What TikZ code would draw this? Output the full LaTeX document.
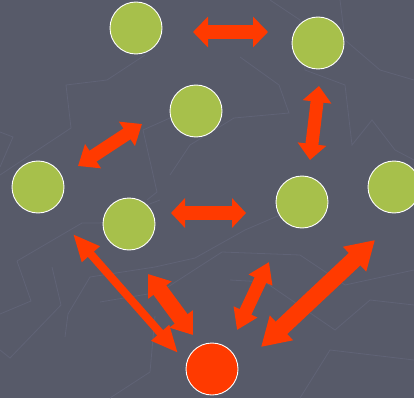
\documentclass[tikz,border=0pt]{standalone}
\usepackage{xcolor}
\definecolor{slate}{HTML}{575A69}
\definecolor{crack}{HTML}{606376}
\definecolor{lime}{HTML}{A7C04B}
\definecolor{blaze}{HTML}{FF3A00}
\usetikzlibrary{arrows.meta,calc}
\tikzset{
    x=1pt,y=-1pt,
    ball/.style ={circle, draw=white, line width=0.9pt, fill=lime, minimum size=52pt, inner sep=0pt},
    hot/.style ={ball, fill=blaze},
    link/.style n args={3}{blaze, line width=#1, {Triangle[width=#2,length=#3]}-{Triangle[width=#2,length=#3]}},
    crackle/.style ={crack, line width=0.8pt}
}
\begin{document}
\begin{tikzpicture}
      \fill[slate] (0,0) rectangle (414,398);
      \useasboundingbox (0,0) rectangle (414,398);
      % faint background lines
      \draw[crackle] (145,55) -- (107,80) -- (66,85) -- (71,128) -- (0,175);
      \draw[crackle] (0,132) -- (13,137) -- (0,167);
      \draw[crackle] (170,118) -- (143,130) -- (157,192) -- (147,200);
      \draw[crackle] (240,57) -- (279,85) -- (289,113) -- (234,118) -- (190,145) -- (170,175);
      \draw[crackle] (270,0) -- (300,20) -- (305,70) -- (345,85) -- (352,145) -- (372,120) -- (395,150) -- (414,160);
      \draw[crackle] (340,0) -- (345,40) -- (380,70) -- (414,80);
      \draw[crackle] (17,261) -- (82,223) -- (100,223) -- (160,200);
      \draw[crackle] (17,261) -- (31,301) -- (0,314);
      \draw[crackle] (52,267) -- (61,305) -- (10,358) -- (0,350);
      \draw[crackle] (65,337) -- (68,314) -- (90,277) -- (155,267) -- (195,258) -- (245,230) -- (280,215);
      \draw[crackle] (100,302) -- (160,292) -- (222,252) -- (300,255) -- (345,285) -- (414,270);
      \draw[crackle] (155,316) -- (150,372) -- (110,398);
      \draw[crackle] (230,280) -- (265,282) -- (335,330) -- (370,300) -- (414,305);
      \draw[crackle] (300,398) -- (330,350) -- (414,360);

      \node[ball] (tl) at (136,28) {};
      \node[ball] (tr) at (318,43) {};
      \node[ball] (mid) at (196,111) {};
      \node[ball] (lft) at (38,187) {};
      \node[ball] (cl) at (129,224) {};
      \node[ball] (cr) at (302,202) {};
      \node[ball] (rgt) at (394,187) {};
      \node[hot] (root) at (212,369) {};

      % arrow ends
      \coordinate (a1) at (193,32);   \coordinate (b1) at (268,32);
      \coordinate (a2) at (319,86);   \coordinate (b2) at (310,160);
      \coordinate (a3) at (142,124);  \coordinate (b3) at (78,166);
      \coordinate (a4) at (171,213);  \coordinate (b4) at (246,213);
      \coordinate (a5) at (73,234);   \coordinate (b5) at (178,353);
      \coordinate (a6) at (148,274);  \coordinate (b6) at (193,335);
      \coordinate (a7) at (269,262);  \coordinate (b7) at (237,330);
      \coordinate (a8) at (375,240);  \coordinate (b8) at (261,347);

      \draw[link={14pt}{30pt}{15pt}] (a1) -- (b1);
      \draw[link={13pt}{28pt}{16pt}] (a2) -- (b2);
      \draw[link={13pt}{28pt}{18pt}] (a3) -- (b3);
      \draw[link={14pt}{29pt}{14pt}] (a4) -- (b4);
      \draw[link={8pt}{22pt}{27pt}] (a5) -- (b5);
      \draw[link={16pt}{28pt}{20pt}] (a6) -- (b6);
      \draw[link={13pt}{25pt}{20pt}] (a7) -- (b7);
      \draw[link={17pt}{32pt}{28pt}] (a8) -- (b8);
\end{tikzpicture}
\end{document}
